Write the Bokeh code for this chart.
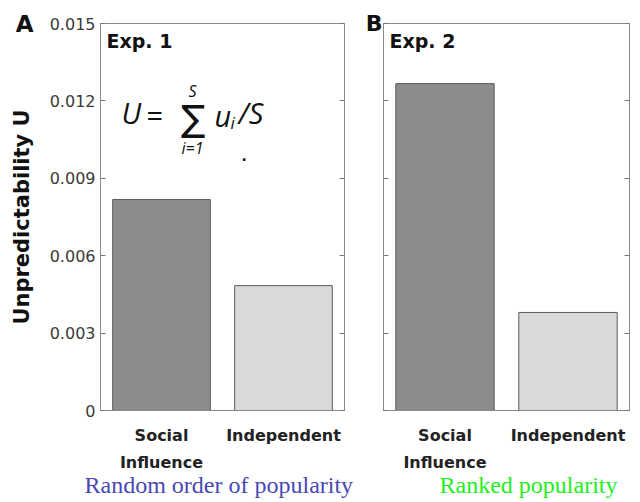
from bokeh.plotting import figure
from bokeh.layouts import row
from bokeh.models import ColumnDataSource, Label, LinearAxis, FixedTicker, Range1d, Title
from bokeh.embed import file_html
from bokeh.resources import INLINE

# Unpredictability of the two conditions in each experiment
conditions = ["Social\nInfluence", "Independent"]
exp1_values = [0.00818, 0.00484]
exp2_values = [0.01267, 0.00380]
bar_colors = ["#8c8c8c", "#d9d9d9"]
y_ticks = [0, 0.003, 0.006, 0.009, 0.012, 0.015]
y_tick_labels = ["0", "0.003", "0.006", "0.009", "0.012", "0.015"]

Y_MAX = 0.015
TOP, BOTTOM = 23, 410          # frame top / bottom in canvas pixels
PX_PER_UNIT_Y = (BOTTOM - TOP) / Y_MAX
SANS = "DejaVu Sans"
SERIF = "Liberation Serif"


def plain_axis(ticks):
    ax = LinearAxis(ticker=FixedTicker(ticks=ticks))
    ax.minor_tick_line_color = None
    ax.major_tick_out = 0
    ax.axis_line_color = "#8a8a8a"
    ax.major_tick_line_color = "#777777"
    return ax


def make_panel(values, width, border_left, border_right, caption, caption_color,
               caption_offset):
    p = figure(width=width, height=502, output_backend="svg", toolbar_location=None,
               x_range=Range1d(0.5, 2.5), y_range=Range1d(0, Y_MAX),
               min_border_left=border_left, min_border_right=border_right,
               min_border_top=TOP, min_border_bottom=502 - BOTTOM,
               y_axis_location=None, x_axis_location=None)
    p.grid.visible = False
    p.outline_line_color = "#8a8a8a"
    p.background_fill_color = "white"
    p.border_fill_color = "white"

    src = ColumnDataSource(dict(x=[1, 2], top=values, color=bar_colors))
    p.vbar(x="x", top="top", width=0.8, bottom=0, source=src,
           fill_color="color", line_color="#5a5a5a", line_width=1)

    # condition names under the bars
    xa = plain_axis([1, 2])
    xa.major_label_overrides = {1: conditions[0], 2: conditions[1]}
    xa.major_tick_in = 0
    xa.major_label_text_font = SANS
    xa.major_label_text_font_style = "bold"
    xa.major_label_text_font_size = "16px"
    xa.major_label_text_line_height = 1.45
    xa.major_label_text_color = "#222222"
    xa.major_label_standoff = 15
    p.add_layout(xa, "below")

    # caption under each panel
    p.add_layout(Title(text=caption, text_font=SERIF, text_font_size="24px",
                       text_font_style="normal", text_color=caption_color,
                       align="left", offset=caption_offset, standoff=-8,
                       vertical_align="top"), "below")

    # right axis: inward ticks only
    ra = plain_axis(y_ticks)
    ra.major_tick_in = 5
    ra.major_label_text_font_size = "0px"
    ra.major_label_text_alpha = 0
    p.add_layout(ra, "right")
    return p


pA = make_panel(exp1_values, 360, 100, 16, "Random order of popularity", "#4848b4", -16)
pB = make_panel(exp2_values, 280, 23, 11, "Ranked  popularity", "#22ee22", 56)

# panel A: value axis with tick labels
la = plain_axis(y_ticks)
la.major_tick_in = 5
la.major_label_overrides = {t: s for t, s in zip(y_ticks, y_tick_labels)}
la.major_label_text_font = SANS
la.major_label_text_font_size = "16px"
la.major_label_text_color = "#3a3a3a"
la.major_label_standoff = 5
pA.add_layout(la, "left")

# panel A: letter at the top and the axis title
ta = plain_axis([Y_MAX])
ta.axis_line_color = None
ta.major_tick_line_color = None
ta.major_tick_in = 0
ta.major_label_overrides = {Y_MAX: "A"}
ta.major_label_text_font = SANS
ta.major_label_text_font_style = "bold"
ta.major_label_text_font_size = "23px"
ta.major_label_text_color = "#111111"
ta.major_label_standoff = 13
ta.axis_label = "Unpredictability U"
ta.axis_label_text_font = SANS
ta.axis_label_text_font_style = "bold"
ta.axis_label_text_font_size = "21px"
ta.axis_label_text_color = "#111111"
ta.axis_label_standoff = -21
pA.add_layout(ta, "left")

# panel B: inward ticks, letter B at the top tick
lb = plain_axis(y_ticks)
lb.major_tick_in = 5
lb.major_label_overrides = {t: ("B" if t == Y_MAX else "") for t in y_ticks}
lb.major_label_text_font = SANS
lb.major_label_text_font_style = "bold"
lb.major_label_text_font_size = "22px"
lb.major_label_text_color = "#111111"
lb.major_label_standoff = 1
pB.add_layout(lb, "left")


def put(p, frame_left, frame_width, canvas_x0, px, py, text, **kw):
    """Place a text centred vertically on a canvas pixel row, in the panel's data units."""
    x = 0.5 + (px - frame_left - canvas_x0) * 2.0 / frame_width
    y = (BOTTOM - py) / PX_PER_UNIT_Y
    opts = dict(text_font=SANS, text_color="#111111", text_align="left",
                text_baseline="middle")
    opts.update(kw)
    p.add_layout(Label(x=x, y=y, text=text, **opts))


def putA(px, py, text, **kw):
    put(pA, 100, 244, 0, px, py, text, **kw)


def putB(px, py, text, **kw):
    put(pB, 23, 246, 360, px, py, text, **kw)


# experiment titles
putA(106, 40, "Exp. 1", text_font_style="bold", text_font_size="19px")
putB(389, 40, "Exp. 2", text_font_style="bold", text_font_size="19px")

# unpredictability formula
F = "Open Sans"
putA(121, 112, "U", text_font=F, text_font_style="italic", text_font_size="29px")
putA(146, 114, "=", text_font=F, text_font_size="29px")
putA(193, 118, "\u2211", text_font=SANS, text_font_size="36px", text_align="center")
putA(192, 90, "S", text_font=F, text_font_style="italic", text_font_size="16px",
     text_align="center")
putA(192, 147, "i=1", text_font=F, text_font_style="italic", text_font_size="16px",
     text_align="center")
putA(214, 115, "u", text_font=F, text_font_style="italic", text_font_size="29px")
putA(230, 122, "i", text_font=F, text_font_style="italic", text_font_size="17px")
putA(238, 112, "/S", text_font=F, text_font_style="italic", text_font_size="29px")
putA(241, 155, ".", text_font_style="bold", text_font_size="14px")

layout = row(pA, pB)
open("out.html", "w").write(file_html(layout, INLINE))
